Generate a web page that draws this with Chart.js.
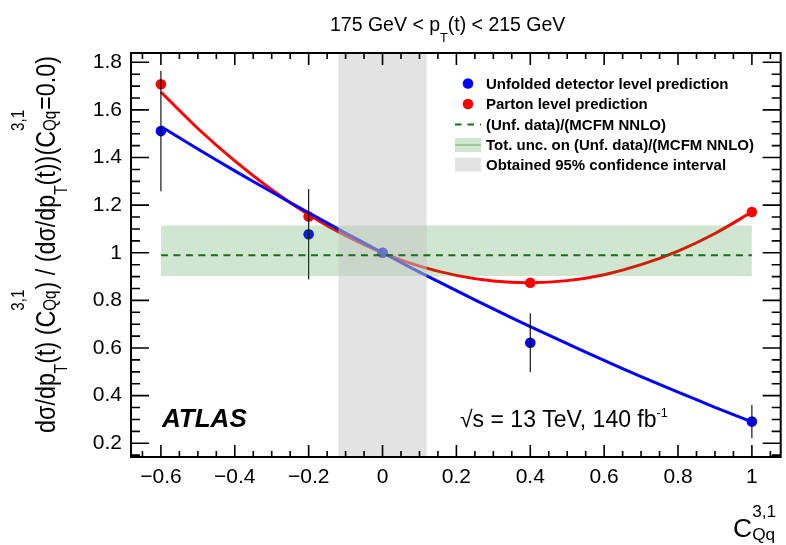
<!DOCTYPE html>
<html lang="en">
<head>
<meta charset="utf-8">
<title>C31Qq scan</title>
<script src="https://cdn.jsdelivr.net/npm/chart.js@4.4.1/dist/chart.umd.min.js"></script>
<style>
  html, body { margin: 0; padding: 0; background: #fff; }
  #wrap { width: 786px; height: 545px; }
</style>
</head>
<body>
<div id="wrap"><canvas id="scan" width="786" height="545"></canvas></div>
<script>
// ── Values ────────────────────────────────────────────────────────────────
const coeffPoints  = [-0.6, -0.2, 0, 0.4, 1]
const unfoldedPred = [1.511, 1.078, 1.0, 0.622, 0.291]
const unfoldedErr  = [0.253, 0.19, 0, 0.124, 0.07]
const partonPred   = [1.708, 1.152, 1.0, 0.874, 1.171]

// fitted curves
const curveCoeff    = [-0.6, -0.5, -0.4, -0.3, -0.2, -0.1, 0, 0.1, 0.2, 0.3, 0.4, 0.5, 0.6, 0.7, 0.8, 0.9, 1]
const unfoldedCurve = [1.530, 1.436, 1.344, 1.255, 1.168, 1.083, 1.000, 0.919, 0.841, 0.764, 0.690, 0.618, 0.548, 0.480, 0.415, 0.351, 0.290]
const partonCurve   = [1.675, 1.522, 1.386, 1.265, 1.160, 1.072, 1.000, 0.944, 0.905, 0.881, 0.874, 0.883, 0.908, 0.950, 1.007, 1.081, 1.171]

// (unfolded data)/(MCFM NNLO) and its total uncertainty band
const ratioSpan    = [-0.6, 1]
const ratioCentral = 0.99
const ratioUp      = 1.115
const ratioDown    = 0.902

// obtained 95% confidence interval
const ciRange = [-0.12, 0.12]

const xTickValues = [-0.6, -0.4, -0.2, 0, 0.2, 0.4, 0.6, 0.8, 1]
const yTickValues = [0.2, 0.4, 0.6, 0.8, 1, 1.2, 1.4, 1.6, 1.8]

const X_MIN = -0.681, X_MAX = 1.078
const Y_MIN = 0.1423, Y_MAX = 1.839

const FAMILY = '"Liberation Sans", Arial, Helvetica, sans-serif'
const BAND_GREEN = "rgba(40,140,40,0.22)"
const CI_GREY    = "rgba(200,200,200,0.5)"
const DASH_GREEN = "#18701c"

const pts = (xs, ys) => xs.map((x, i) => ({ x, y: ys[i] }))
const flat = (xs, v) => xs.map(x => ({ x, y: v }))

function fmtTick(v) {
  const r = Math.round(v * 10) / 10
  return r === 0 ? "0" : String(r).replace("-", "\u2212")
}

// ── rich text helper (ROOT style sub/superscripts) ───────────────────────
function drawRich(ctx, parts, x0, y0, size, st, dry) {
  const small = size * st.small
  let cx = x0
  const put = (txt, px, dy) => {
    ctx.font = `${st.weight || ""} ${px}px ${FAMILY}`
    if (!dry) ctx.fillText(txt, cx, y0 + dy)
    return ctx.measureText(txt).width
  }
  parts.forEach(([txt, kind]) => {
    if (kind === "sub") cx += put(txt, small, size * st.subDrop)
    else if (kind === "sup") cx += put(txt, small, -size * st.supRise)
    else if (kind === "ss") {
      const a = put(txt[0], small, -size * st.ssRise)
      const b = put(txt[1], small, size * st.ssDrop)
      cx += Math.max(a, b)
    } else cx += put(txt, size, 0)
  })
  return cx - x0
}

// ── frame with ticks on all four sides ───────────────────────────────────
function drawFrame(ctx, a, xs, ys) {
  ctx.strokeStyle = "#000"
  ctx.lineWidth = 1.6
  ctx.beginPath()
  for (let i = Math.ceil(X_MIN / 0.05); i * 0.05 <= X_MAX + 1e-9; i++) {
    const major = xTickValues.some(t => Math.abs(t - i * 0.05) < 1e-6)
    const len = major ? 12 : 6
    const px = xs.getPixelForValue(i * 0.05)
    ctx.moveTo(px, a.bottom); ctx.lineTo(px, a.bottom - len)
    ctx.moveTo(px, a.top);    ctx.lineTo(px, a.top + len)
  }
  for (let i = Math.ceil(Y_MIN / 0.05); i * 0.05 <= Y_MAX + 1e-9; i++) {
    const major = yTickValues.some(t => Math.abs(t - i * 0.05) < 1e-6)
    const len = major ? 18 : 9
    const py = ys.getPixelForValue(i * 0.05)
    ctx.moveTo(a.left, py);  ctx.lineTo(a.left + len, py)
    ctx.moveTo(a.right, py); ctx.lineTo(a.right - len, py)
  }
  ctx.stroke()
  ctx.lineWidth = 2
  ctx.strokeRect(a.left, a.top, a.right - a.left, a.bottom - a.top)
}

// ── legend (top right, inside the frame) ─────────────────────────────────
function drawLegend(ctx) {
  const mx = 455, mw = 26, tx = 486
  const rows = [83.5, 104, 124.5, 145, 164.5]
  const texts = [
    "Unfolded detector level prediction",
    "Parton level prediction",
    "(Unf. data)/(MCFM NNLO)",
    "Tot. unc. on (Unf. data)/(MCFM NNLO)",
    "Obtained 95% confidence interval"
  ]
  ctx.fillStyle = "#0000ff"
  ctx.beginPath(); ctx.arc(mx + mw / 2, rows[0], 5.3, 0, Math.PI * 2); ctx.fill()
  ctx.fillStyle = "#ff0000"
  ctx.beginPath(); ctx.arc(mx + mw / 2, rows[1], 5.3, 0, Math.PI * 2); ctx.fill()

  ctx.strokeStyle = DASH_GREEN
  ctx.lineWidth = 2
  ctx.setLineDash([6.5, 6])
  ctx.beginPath(); ctx.moveTo(mx, rows[2]); ctx.lineTo(mx + mw, rows[2]); ctx.stroke()
  ctx.setLineDash([])

  ctx.fillStyle = BAND_GREEN
  ctx.fillRect(mx, rows[3] - 7, mw, 14)
  ctx.strokeStyle = "rgba(60,150,60,0.35)"
  ctx.beginPath(); ctx.moveTo(mx, rows[3]); ctx.lineTo(mx + mw, rows[3]); ctx.stroke()

  ctx.fillStyle = CI_GREY
  ctx.fillRect(mx, rows[4] - 7, mw, 14)

  ctx.fillStyle = "#000"
  ctx.font = `bold 15px ${FAMILY}`
  ctx.textBaseline = "alphabetic"
  texts.forEach((t, i) => ctx.fillText(t, tx, rows[i] + 5.4))
}

// ── titles and labels ────────────────────────────────────────────────────
function drawLabels(ctx) {
  ctx.fillStyle = "#000"
  ctx.textAlign = "left"
  ctx.textBaseline = "alphabetic"

  // bin title
  drawRich(ctx, [["175 GeV < p", "n"], ["T", "sub"], ["(t) < 215 GeV", "n"]],
    330, 31, 19.5, { small: 0.65, subDrop: 0.55 })

  // ATLAS
  ctx.font = `italic bold 26px ${FAMILY}`
  ctx.fillText("ATLAS", 162, 427)

  // energy / lumi
  ctx.font = `23px ${FAMILY}`
  ctx.fillText("\u221As", 460, 427)
  const w0 = ctx.measureText("\u221As").width
  drawRich(ctx, [[" = 13 TeV, 140 fb", "n"], ["-1", "sup"]],
    460 + w0, 427, 23, { small: 0.55, supRise: 0.45 })

  // x axis title
  drawRich(ctx, [["C", "n"], [["3,1", "Qq"], "ss"]],
    733, 537, 26.5, { small: 0.65, ssRise: 0.75, ssDrop: 0.1 })

  // y axis title, squeezed to the drawn length
  const yParts = [
    ["d\u03C3/dp", "n"], ["T", "sub"], ["(t) (C", "n"], [["3,1", "Qq"], "ss"],
    [") / (d\u03C3/dp", "n"], ["T", "sub"], ["(t))(C", "n"], [["3,1", "Qq"], "ss"],
    ["=0.0)", "n"]
  ]
  const ySt = { small: 0.65, subDrop: 0.46, ssRise: 1.15, ssDrop: 0.05 }
  ctx.save()
  ctx.translate(55, 433)
  ctx.rotate(-Math.PI / 2)
  const w = drawRich(ctx, yParts, 0, 0, 27, ySt, true)
  ctx.scale(377 / w, 1)
  drawRich(ctx, yParts, 0, 0, 27, ySt)
  ctx.restore()
}

const atlasDecor = {
  id: "atlasDecor",
  afterDraw(chart) {
    const { ctx, chartArea, scales } = chart
    ctx.save()
    drawFrame(ctx, chartArea, scales.x, scales.y)
    drawLegend(ctx)
    drawLabels(ctx)
    ctx.restore()
  }
}

// ── datasets ─────────────────────────────────────────────────────────────
const errorBars = coeffPoints
  .map((c, i) => ({
    data: [{ x: c, y: unfoldedPred[i] - unfoldedErr[i] }, { x: c, y: unfoldedPred[i] + unfoldedErr[i] }],
    borderColor: "#000",
    borderWidth: 1.1,
    pointRadius: 0,
    order: 3
  }))
  .filter((d, i) => unfoldedErr[i] > 0)

const datasets = [
  {
    label: "(Unf. data)/(MCFM NNLO)",
    data: flat(ratioSpan, ratioCentral),
    borderColor: DASH_GREEN,
    borderWidth: 2,
    borderDash: [7, 5.5],
    pointRadius: 0,
    order: 0
  },
  {
    label: "Obtained 95% confidence interval",
    data: flat(ciRange, Y_MAX),
    borderWidth: 0,
    borderColor: "rgba(0,0,0,0)",
    backgroundColor: CI_GREY,
    fill: "start",
    pointRadius: 0,
    order: 1
  },
  {
    label: "Tot. unc. up",
    data: flat(ratioSpan, ratioUp),
    borderWidth: 0,
    borderColor: "rgba(0,0,0,0)",
    backgroundColor: BAND_GREEN,
    fill: "+1",
    pointRadius: 0,
    order: 2
  },
  {
    label: "Tot. unc. down",
    data: flat(ratioSpan, ratioDown),
    borderWidth: 0,
    borderColor: "rgba(0,0,0,0)",
    pointRadius: 0,
    order: 2
  },
  ...errorBars,
  {
    label: "Unfolded detector level prediction",
    data: pts(coeffPoints, unfoldedPred),
    showLine: false,
    pointRadius: 5.3,
    pointBackgroundColor: "#0000ff",
    pointBorderWidth: 0,
    order: 4
  },
  {
    label: "unfolded fit",
    data: pts(curveCoeff, unfoldedCurve),
    borderColor: "#0000ff",
    borderWidth: 3,
    tension: 0.3,
    pointRadius: 0,
    order: 5
  },
  {
    label: "Parton level prediction",
    data: pts(coeffPoints, partonPred),
    showLine: false,
    pointRadius: 5.3,
    pointBackgroundColor: "#ff0000",
    pointBorderWidth: 0,
    order: 6
  },
  {
    label: "parton fit",
    data: pts(curveCoeff, partonCurve),
    borderColor: "#ff0000",
    borderWidth: 3,
    tension: 0.3,
    pointRadius: 0,
    order: 7
  }
]

Chart.defaults.font.family = FAMILY
Chart.defaults.color = "#000"

new Chart(document.getElementById("scan"), {
  type: "line",
  data: { datasets },
  options: {
    responsive: false,
    animation: false,
    events: [],
    layout: { padding: { top: 53, right: 3, left: 0, bottom: 0 } },
    plugins: {
      legend: { display: false },
      tooltip: { enabled: false }
    },
    scales: {
      x: {
        type: "linear",
        min: X_MIN,
        max: X_MAX,
        afterFit: s => { s.height = 88 },
        afterBuildTicks: s => { s.ticks = xTickValues.map(v => ({ value: v })) },
        grid: { display: false, drawTicks: false },
        border: { display: false },
        ticks: { font: { size: 21 }, color: "#000", padding: 8, maxRotation: 0, autoSkip: false, callback: fmtTick }
      },
      y: {
        type: "linear",
        min: Y_MIN,
        max: Y_MAX,
        afterFit: s => { s.width = 131 },
        afterBuildTicks: s => { s.ticks = yTickValues.map(v => ({ value: v })) },
        grid: { display: false, drawTicks: false },
        border: { display: false },
        ticks: { font: { size: 21 }, color: "#000", padding: 9, autoSkip: false, callback: fmtTick }
      }
    }
  },
  plugins: [atlasDecor]
})
</script>
</body>
</html>
